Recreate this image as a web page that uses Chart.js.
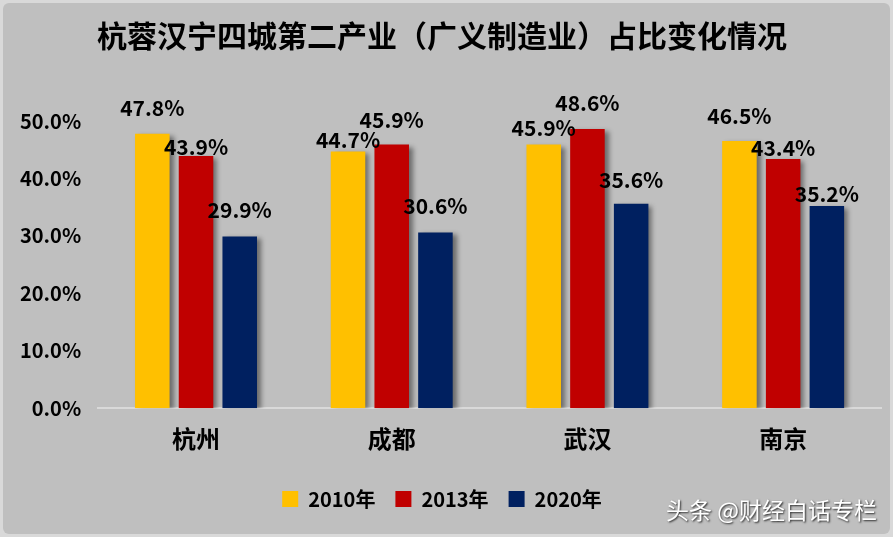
<!DOCTYPE html>
<html>
<head>
<meta charset="utf-8">
<script src="https://cdn.jsdelivr.net/npm/chart.js@4.4.0/dist/chart.umd.min.js"></script>
<style>
  html, body { margin: 0; padding: 0; background: #ffffff; }
  #wrap { width: 893px; height: 537px; }
</style>
</head>
<body>
<div id="wrap"><canvas id="myChart" width="893" height="537"></canvas></div>
<script>
// data
const cities = ["杭州", "成都", "武汉", "南京"];
const years = ["2010年", "2013年", "2020年"];
const share2010 = [47.8, 44.7, 45.9, 46.5];
const share2013 = [43.9, 45.9, 48.6, 43.4];
const share2020 = [29.9, 30.6, 35.6, 35.2];
const yTicks = [0, 10, 20, 30, 40, 50];

const font = "'Noto Sans CJK SC', 'DejaVu Sans', sans-serif";
const colors = ["#FFC000", "#C00000", "#002060"];

// how far each value label sits above its bar (px), per series
const labelLift = [
    [26, 11, 17, 25],
    [9, 25, 26, 11],
    [26, 26, 24, 12],
];

// gray frame behind everything
const background = {
    id: "background",
    beforeDraw(chart) {
        const ctx = chart.ctx;
        ctx.save();
        ctx.fillStyle = "#d9d9d9";
        ctx.fillRect(0, 0, chart.width, chart.height);
        ctx.fillStyle = "#bfbfbf";
        ctx.beginPath();
        ctx.roundRect(3, 3, chart.width - 6, chart.height - 6, 6);
        ctx.fill();
        ctx.restore();
    },
};

// bar shadows
const barShadow = {
    id: "barShadow",
    beforeDatasetsDraw(chart) {
        const ctx = chart.ctx;
        ctx.save();
        ctx.shadowColor = "rgba(0,0,0,0.45)";
        ctx.shadowBlur = 5;
        ctx.shadowOffsetX = 4;
        ctx.shadowOffsetY = 2;
    },
    afterDatasetsDraw(chart) {
        chart.ctx.restore();
    },
};

// value labels + watermark
const valueLabels = {
    id: "valueLabels",
    afterDatasetsDraw(chart) {
        const ctx = chart.ctx;
        ctx.save();
        ctx.font = "bold 21px " + font;
        ctx.fillStyle = "#000";
        ctx.textAlign = "center";
        ctx.textBaseline = "middle";
        chart.data.datasets.forEach((ds, i) => {
            chart.getDatasetMeta(i).data.forEach((bar, j) => {
                ctx.fillText(ds.data[j].toFixed(1) + "%", bar.x, bar.y - labelLift[i][j]);
            });
        });
        ctx.font = "23px " + font;
        ctx.textAlign = "right";
        ctx.shadowColor = "rgba(0,0,0,0.8)";
        ctx.shadowBlur = 2;
        ctx.shadowOffsetX = 1;
        ctx.shadowOffsetY = 1;
        ctx.fillStyle = "#fff";
        ctx.fillText("头条 @财经白话专栏", 877, 510);
        ctx.restore();
    },
};

const data = {
    labels: cities,
    datasets: [share2010, share2013, share2020].map((values, i) => ({
        label: years[i],
        data: values,
        backgroundColor: colors[i],
        borderWidth: 0,
        categoryPercentage: 0.67,
        barPercentage: 0.79,
    })),
};

const config = {
    type: "bar",
    data: data,
    plugins: [background, barShadow, valueLabels],
    options: {
        responsive: false,
        animation: false,
        layout: { padding: { left: 3, right: 12, bottom: 18 } },
        scales: {
            y: {
                min: 0,
                max: 50,
                afterBuildTicks: (axis) => { axis.ticks = yTicks.map((v) => ({ value: v })); },
                grid: { display: false, drawTicks: false },
                border: { display: false },
                ticks: {
                    padding: 17,
                    color: "#000",
                    font: { family: font, size: 20, weight: "bold" },
                    callback: (v) => v.toFixed(1) + "%",
                },
            },
            x: {
                grid: { display: false, drawTicks: false },
                border: { display: true, color: "#d9d9d9", width: 2 },
                ticks: {
                    padding: 16,
                    color: "#000",
                    font: { family: font, size: 24, weight: "bold" },
                },
            },
        },
        plugins: {
            title: {
                display: true,
                text: "杭蓉汉宁四城第二产业（广义制造业）占比变化情况",
                color: "#000",
                font: { family: font, size: 30, weight: "bold" },
                padding: { top: 18, bottom: 67 },
            },
            legend: {
                position: "bottom",
                labels: {
                    color: "#000",
                    boxWidth: 16,
                    boxHeight: 16,
                    padding: 20,
                    font: { family: font, size: 20, weight: "bold" },
                },
            },
            tooltip: { enabled: false },
        },
    },
};

const myChart = new Chart(document.getElementById("myChart"), config);
</script>
</body>
</html>
